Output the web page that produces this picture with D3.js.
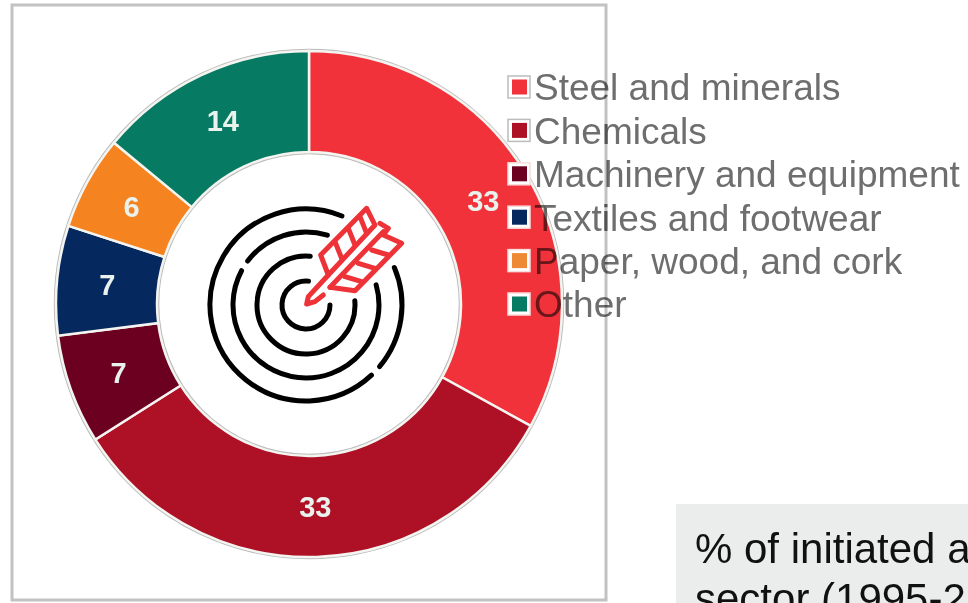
<!DOCTYPE html>
<html>
<head>
<meta charset="utf-8">
<script src="https://cdn.jsdelivr.net/npm/d3@7"></script>
<style>
  html, body { margin: 0; padding: 0; background: #fff; overflow: hidden; }
  text { font-family: "Liberation Sans", Arial, sans-serif; }
  svg { filter: blur(0.6px); }
</style>
</head>
<body>
<svg id="chart" width="968" height="603"></svg>
<script>
// data
const categories = ["Steel and minerals", "Chemicals", "Machinery and equipment", "Textiles and footwear", "Paper, wood, and cork", "Other"];
const shares = [33, 33, 7, 7, 6, 14];
const sliceColors = ["#f1323a", "#ae1126", "#6c0021", "#05295f", "#f5831f", "#067a63"];
const noteLines = ["% of initiated a", "sector (1995-2"];

const svg = d3.select("#chart");
const cx = 309, cy = 304, outerR = 253, innerR = 152;

// donut
const pie = d3.pie().sort(null).value(d => d);
const arc = d3.arc().innerRadius(innerR).outerRadius(outerR);
const arcs = pie(shares);

const donut = svg.append("g").attr("transform", "translate(" + cx + "," + cy + ")");

// thin grey edge round the ring
donut.append("circle").attr("r", outerR + 1.5).attr("fill", "none").attr("stroke", "#bdbdbd").attr("stroke-width", 1.5);
donut.append("circle").attr("r", innerR - 1.5).attr("fill", "none").attr("stroke", "#bdbdbd").attr("stroke-width", 1.5);

donut.selectAll("path.slice")
  .data(arcs)
  .enter().append("path")
  .attr("class", "slice")
  .attr("d", arc)
  .attr("fill", (d, i) => sliceColors[i])
  .attr("stroke", "#f4f4f0")
  .attr("stroke-width", 2.5);

donut.selectAll("text.value")
  .data(arcs)
  .enter().append("text")
  .attr("class", "value")
  .attr("transform", d => "translate(" + arc.centroid(d) + ")")
  .attr("text-anchor", "middle")
  .attr("dy", "0.36em")
  .attr("font-size", 29)
  .attr("font-weight", "bold")
  .attr("fill", "#eaf2ee")
  .text(d => d.data);

// target icon, drawn in the 3x zoom coordinates
const icon = svg.append("g").attr("transform", "translate(190,190) scale(0.3333)");
const rad = Math.PI / 180;
const rings = [
  { r: 72, from: 90, to: 366 },
  { r: 147, from: 85, to: 365 },
  { r: 219, from: 307, to: 377 },
  { r: 219, from: 74, to: 298 },
  { r: 288, from: 137, to: 382 },
  { r: 288, from: 67, to: 130 }
];
rings.forEach(function (ring) {
  const p = d3.path();
  p.arc(348, 345, ring.r, (ring.from - 90) * rad, (ring.to - 90) * rad);
  icon.append("path")
    .attr("d", p.toString())
    .attr("fill", "none")
    .attr("stroke", "#000")
    .attr("stroke-width", 15)
    .attr("stroke-linecap", "round");
});

const arrowShapes = [
  "M415,255 L355,320 L350,342 L375,335 L400,315",
  "M392,195 L530,55 L555,105 L415,255 Z",
  "M435,155 L455,205",
  "M475,115 L495,165",
  "M510,80 L530,130",
  "M420,292 L495,302 L635,160 L580,135 L595,115 L570,100",
  "M420,292 L580,125",
  "M465,260 L515,275",
  "M505,220 L555,235",
  "M545,180 L595,195"
];
arrowShapes.forEach(function (d) {
  icon.append("path")
    .attr("d", d)
    .attr("fill", "none")
    .attr("stroke", "#ee3338")
    .attr("stroke-width", 15)
    .attr("stroke-linecap", "round")
    .attr("stroke-linejoin", "round");
});

// legend, sits on top of the donut
const rowY = d3.scalePoint().domain(categories).range([87, 304]);
const legend = svg.append("g");
const rows = legend.selectAll("g.row")
  .data(categories)
  .enter().append("g")
  .attr("class", "row")
  .attr("transform", d => "translate(0," + rowY(d) + ")");

rows.append("rect")
  .attr("x", 508).attr("y", -11).attr("width", 22).attr("height", 22)
  .attr("fill", "#fff")
  .attr("stroke", (d, i) => i < 2 ? "#bcbcbc" : "#f7dcdc")
  .attr("stroke-width", 1.5);
rows.append("rect")
  .attr("x", 512).attr("y", -7.5).attr("width", 15).attr("height", 15)
  .attr("fill", (d, i) => i == 4 ? "#ee8a35" : sliceColors[i]);
rows.append("text")
  .attr("x", 534)
  .attr("dy", "0.36em")
  .attr("font-size", 37)
  .attr("fill", "#6e6e6e")
  .style("mix-blend-mode", "multiply")
  .text(d => d);

// chart frame
svg.append("rect")
  .attr("x", 12).attr("y", 5).attr("width", 594).attr("height", 595)
  .attr("fill", "none")
  .attr("stroke", "#c2c2c2")
  .attr("stroke-width", 3)
  .style("mix-blend-mode", "multiply");

// note box, runs off the page
svg.append("rect")
  .attr("x", 676).attr("y", 504).attr("width", 292).attr("height", 99)
  .attr("fill", "#ebedec");
svg.selectAll("text.note")
  .data(noteLines)
  .enter().append("text")
  .attr("class", "note")
  .attr("x", 695)
  .attr("y", (d, i) => 563 + i * 50)
  .attr("font-size", 42)
  .attr("fill", "#111")
  .text(d => d);
</script>
</body>
</html>
